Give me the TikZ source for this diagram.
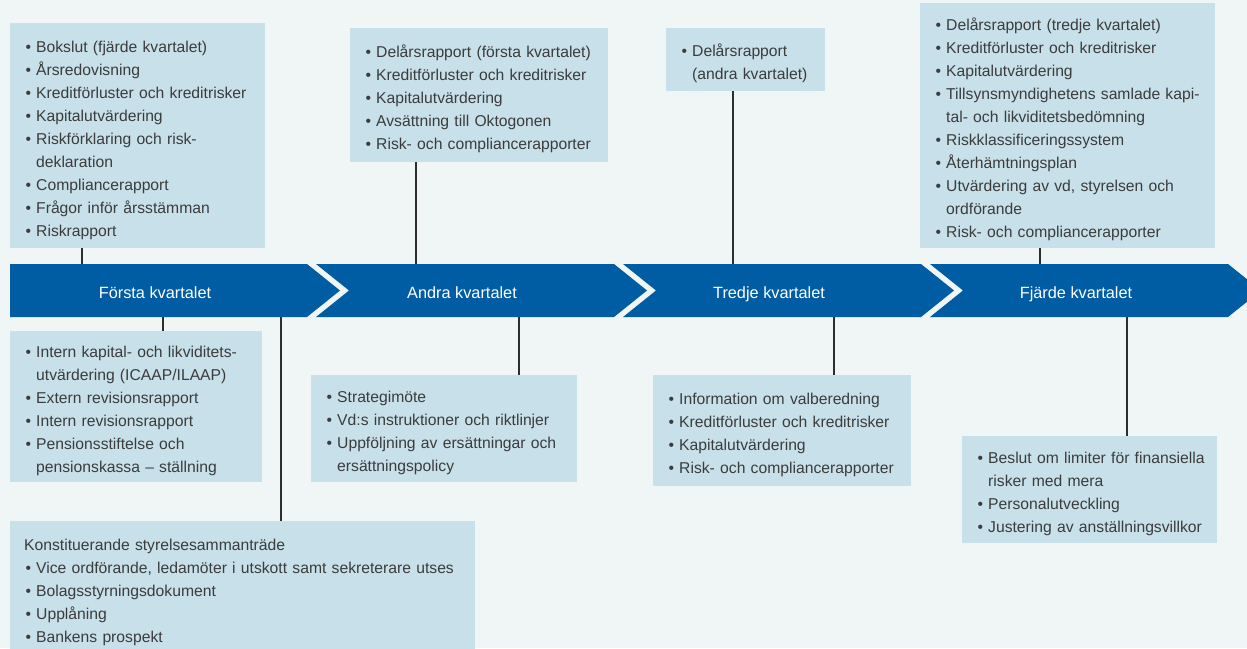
\documentclass[tikz,border=0pt]{standalone}
\usepackage{fontspec}
\setmainfont{Liberation Sans}
\definecolor{bgc}{HTML}{F0F5F6}
\definecolor{boxc}{HTML}{C8E0E9}
\definecolor{bandc}{HTML}{005CA3}
\definecolor{txtc}{HTML}{3C3C3C}
\definecolor{linec}{HTML}{2E2E2E}
\newcommand\bl{\hspace*{15.5pt}\makebox[10.5pt][l]{•}}
\newcommand\ct{\hspace*{26pt}}
\newcommand\pl{\hspace*{14pt}}
\begin{document}
\begin{tikzpicture}[x=1pt,y=-1pt,
  infobox/.style={fill=boxc, rectangle, anchor=north west, inner sep=0pt, text=txtc, align=left, font=\fontsize{15.7}{23}\selectfont, execute at begin node={\rule{0pt}{20.5pt}}},
  seglabel/.style={text=white, font=\fontsize{16.3}{20}\selectfont, inner sep=0pt, minimum height=53pt, text height=16pt, text depth=0pt},
  link/.style={draw=linec, line width=1.1pt}]
\useasboundingbox (0,0) rectangle (1247,648);
\clip (0,0) rectangle (1247,648);
\fill[bgc] (0,0) rectangle (1247,648);

% timeline band
\fill[bandc] (10,264) -- (307,264) -- (340,290.5) -- (307,317) -- (10,317) -- cycle;
\fill[bandc] (316,264) -- (614,264) -- (647,290.5) -- (614,317) -- (316,317) -- (349,290.5) -- cycle;
\fill[bandc] (623,264) -- (921,264) -- (954,290.5) -- (921,317) -- (623,317) -- (656,290.5) -- cycle;
\fill[bandc] (930,264) -- (1228,264) -- (1261,290.5) -- (1228,317) -- (930,317) -- (963,290.5) -- cycle;

\node[seglabel] (q1) at (155,290.5) {Första kvartalet};
\node[seglabel] (q2) at (462,290.5) {Andra kvartalet};
\node[seglabel] (q3) at (769,290.5) {Tredje kvartalet};
\node[seglabel] (q4) at (1076,290.5) {Fjärde kvartalet};

% boxes above
\node[infobox, text width=255pt, minimum height=225pt] (bA) at (10,23) {%
\bl Bokslut (fjärde kvartalet)\\
\bl Årsredovisning\\
\bl Kreditförluster och kreditrisker\\
\bl Kapitalutvärdering\\
\bl Riskförklaring och risk-\\
\ct deklaration\\
\bl Compliancerapport\\
\bl Frågor inför årsstämman\\
\bl Riskrapport};

\node[infobox, text width=258pt, minimum height=134pt] (bB) at (350,28) {%
\bl Delårsrapport (första kvartalet)\\
\bl Kreditförluster och kreditrisker\\
\bl Kapitalutvärdering\\
\bl Avsättning till Oktogonen\\
\bl Risk- och compliancerapporter};

\node[infobox, text width=159pt, minimum height=63pt] (bC) at (666,28) {%
\bl Delårsrapport\\
\ct (andra kvartalet)};

\node[infobox, text width=295pt, minimum height=245pt] (bD) at (920,3) {%
\bl Delårsrapport (tredje kvartalet)\\
\bl Kreditförluster och kreditrisker\\
\bl Kapitalutvärdering\\
\bl Tillsynsmyndighetens samlade kapi-\\
\ct tal- och likviditetsbedömning\\
\bl Riskklassificeringssystem\\
\bl Återhämtningsplan\\
\bl Utvärdering av vd, styrelsen och\\
\ct ordförande\\
\bl Risk- och compliancerapporter};

% boxes below
\node[infobox, text width=252pt, minimum height=151pt] (bE) at (10,331) {%
\bl Intern kapital- och likviditets-\\
\ct utvärdering (ICAAP/ILAAP)\\
\bl Extern revisionsrapport\\
\bl Intern revisionsrapport\\
\bl Pensionsstiftelse och\\
\ct pensionskassa – ställning};

\node[infobox, text width=465pt, minimum height=133pt] (bF) at (10,521) {%
\pl Konstituerande styrelsesammanträde\\
\bl Vice ordförande, ledamöter i utskott samt sekreterare utses\\
\bl Bolagsstyrningsdokument\\
\bl Upplåning\\
\bl Bankens prospekt};

\node[infobox, text width=266pt, minimum height=107pt] (bG) at (311,375) {%
\bl Strategimöte\\
\bl Vd:s instruktioner och riktlinjer\\
\bl Uppföljning av ersättningar och\\
\ct ersättningspolicy};

\node[infobox, text width=258pt, minimum height=111pt] (bH) at (653,375) {%
\bl Information om valberedning\\
\bl Kreditförluster och kreditrisker\\
\bl Kapitalutvärdering\\
\bl Risk- och compliancerapporter};

\node[infobox, text width=255pt, minimum height=107pt] (bI) at (962,436) {%
\bl Beslut om limiter för finansiella\\
\ct risker med mera\\
\bl Personalutveckling\\
\bl Justering av anställningsvillkor};

% connector x positions
\coordinate (xA) at (82,0);
\coordinate (xB) at (416,0);
\coordinate (xC) at (733,0);
\coordinate (xD) at (1040,0);
\coordinate (xE) at (163,0);
\coordinate (xF) at (281,0);
\coordinate (xG) at (519,0);
\coordinate (xH) at (834,0);
\coordinate (xI) at (1127,0);

\draw[link] (bA.south -| xA) -- (q1.north -| xA);
\draw[link] (bB.south -| xB) -- (q2.north -| xB);
\draw[link] (bC.south -| xC) -- (q3.north -| xC);
\draw[link] (bD.south -| xD) -- (q4.north -| xD);
\draw[link] (q1.south -| xE) -- (bE.north -| xE);
\draw[link] (q1.south -| xF) -- (bF.north -| xF);
\draw[link] (q2.south -| xG) -- (bG.north -| xG);
\draw[link] (q3.south -| xH) -- (bH.north -| xH);
\draw[link] (q4.south -| xI) -- (bI.north -| xI);
\end{tikzpicture}
\end{document}
